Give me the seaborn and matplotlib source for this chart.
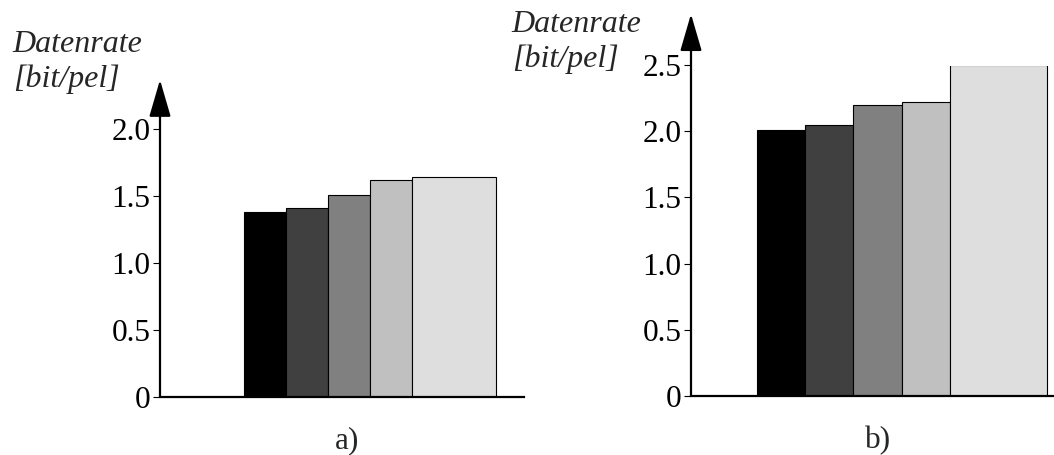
import seaborn as sns
import matplotlib
matplotlib.use("Agg")
from matplotlib import pyplot as plt
from matplotlib.patches import Rectangle

# Datenrate je Verfahren, Bild a) und b)
cats = ["V1", "V2", "V3", "V4", "V5"]
rate_a = [1.38, 1.41, 1.51, 1.62, 1.64]
rate_b = [2.01, 2.05, 2.20, 2.22, 2.50]   # letzter Balken oben abgeschnitten
greys = ["#000000", "#404040", "#808080", "#c0c0c0", "#dedede"]

ticks_a = [0, 0.5, 1.0, 1.5, 2.0]
ticks_b = [0, 0.5, 1.0, 1.5, 2.0, 2.5]
tick_lbl = ["0", "0.5", "1.0", "1.5", "2.0", "2.5"]

sns.set_style("white")
plt.rcParams["font.family"] = ["Liberation Serif", "DejaVu Serif"]

W, H = 1054, 455
fig = plt.figure(figsize=(W / 100, H / 100), dpi=100)
ax_a = fig.add_axes([160 / W, (H - 396.7) / H, 364 / W, 267.4 / H])
ax_b = fig.add_axes([691 / W, (H - 396) / H, 363 / W, 331 / H])


def draw(ax, vals, ticks, ylim, xlim, tip):
    sns.barplot(x=cats, y=vals, hue=cats, palette=greys, width=1,
                saturation=1, edgecolor="black", linewidth=0.8,
                legend=False, ax=ax)
    ax.patches[-1].set_width(2)  # letzter Balken doppelt breit
    ax.set_xlim(*xlim)
    ax.set_ylim(*ylim)
    ax.set_yticks(ticks)
    ax.set_yticklabels(tick_lbl[:len(ticks)])
    ax.set_xticks([])
    ax.set_xlabel("")
    ax.set_ylabel("")
    for s in ["top", "right", "left"]:
        ax.spines[s].set_visible(False)
    ax.spines["bottom"].set_linewidth(1.6)
    ax.spines["bottom"].set_color("black")
    ax.tick_params(axis="y", left=True, direction="out", length=5,
                   width=0.8, pad=2, labelsize=22.5, colors="black")
    ax.annotate("", xy=(xlim[0], tip), xytext=(xlim[0], 0),
                arrowprops=dict(arrowstyle="-|>,head_length=2.3,head_width=0.67",
                                mutation_scale=10, lw=1.6, color="black",
                                shrinkA=0, shrinkB=0),
                annotation_clip=False)


draw(ax_a, rate_a, ticks_a, (0, 2.0), (-2.507, 6.16), 2.37)
draw(ax_b, rate_b, ticks_b, (0, 2.5), (-1.86, 5.655), 2.885)
# oberen Rand des abgeschnittenen Balkens ausblenden
ax_b.patches[-1].set_clip_path(Rectangle((0, 0), 1, 0.996, transform=ax_b.transAxes))

lab = dict(fontsize=23, style="italic", ha="left", va="baseline")
fig.text(12.7 / W, (H - 51.7) / H, "Datenrate", **lab)
fig.text(12.7 / W, (H - 86.7) / H, "[bit/pel]", **lab)
fig.text(511.7 / W, (H - 31.7) / H, "Datenrate", **lab)
fig.text(511.7 / W, (H - 66.7) / H, "[bit/pel]", **lab)

fig.text(347 / W, (H - 448) / H, "a)", fontsize=22.5, ha="center", va="baseline")
fig.text(878 / W, (H - 448) / H, "b)", fontsize=22.5, ha="center", va="baseline")

fig.savefig("out.png", dpi=100)
